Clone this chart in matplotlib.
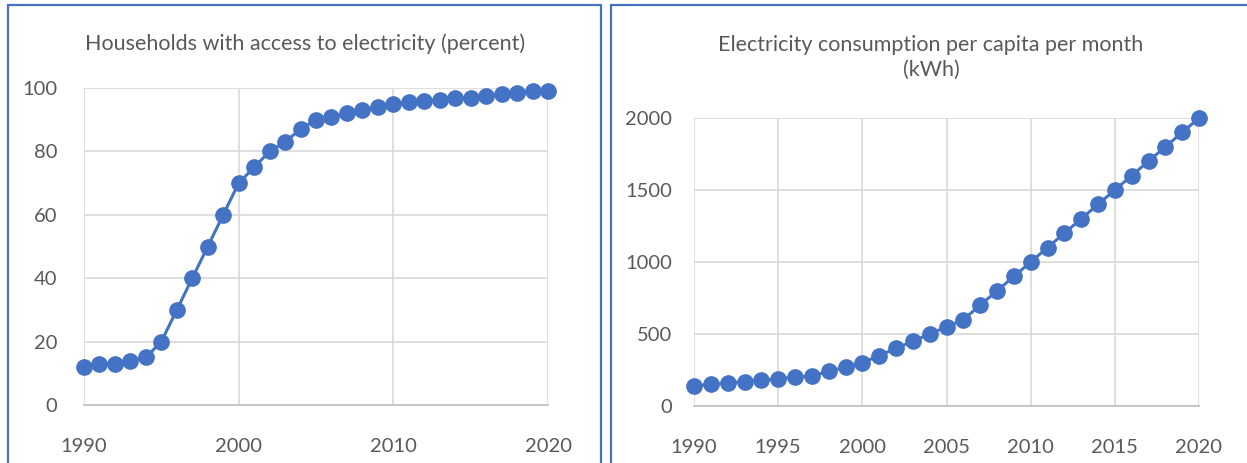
import matplotlib
matplotlib.use("Agg")
import matplotlib.pyplot as plt
from matplotlib.patches import Rectangle

plt.rcParams["font.family"] = ["Lato", "DejaVu Sans"]

BLUE = "#4472C4"
GREY_TXT = "#595959"
GRID = "#D9D9D9"

years = list(range(1990, 2021))

# households with access to electricity, percent
access_pct = [12, 13, 13, 14, 15, 20, 30, 40, 50, 60,
              70, 75, 80, 83, 87, 90, 91, 92, 93, 94,
              95, 95.5, 96, 96.2, 96.7, 97, 97.5, 98, 98.5, 99, 99]

# electricity consumption per capita per month, kWh
kwh_per_capita = [140, 150, 160, 170, 180, 190, 200, 210, 240, 270,
                  300, 350, 400, 450, 500, 550, 600, 700, 800, 900,
                  1000, 1100, 1200, 1300, 1400, 1500, 1600, 1700, 1800, 1900, 2000]

left_xticks = [1990, 2000, 2010, 2020]
left_yticks = [0, 20, 40, 60, 80, 100]
right_xticks = [1990, 1995, 2000, 2005, 2010, 2015, 2020]
right_yticks = [0, 500, 1000, 1500, 2000]

W, H = 1247, 463
fig = plt.figure(figsize=(W / 100, H / 100), dpi=100)


def px_box(x0, y0, x1, y1):
    # pixel box (top-left origin) -> figure fraction rect
    return [x0 / W, 1 - y1 / H, (x1 - x0) / W, (y1 - y0) / H]


# chart frames
fig.patches.append(Rectangle((8 / W, -0.05), (601 - 8) / W, 1 - 5 / H + 0.05,
                             transform=fig.transFigure, fill=False,
                             edgecolor=BLUE, linewidth=1.6))
fig.patches.append(Rectangle((611 / W, -0.05), 0.6, 1 - 5 / H + 0.05,
                             transform=fig.transFigure, fill=False,
                             edgecolor=BLUE, linewidth=1.6))


def style(ax, xticks, yticks, ypad):
    ax.set_xticks(xticks)
    ax.set_yticks(yticks)
    ax.grid(True, color=GRID, linewidth=1.2)
    ax.set_axisbelow(True)
    for s in ["top", "right", "left"]:
        ax.spines[s].set_visible(False)
    ax.spines["bottom"].set_color("#BFBFBF")
    ax.spines["bottom"].set_linewidth(1.2)
    ax.tick_params(axis="both", length=0, labelsize=14.5, colors=GREY_TXT)
    ax.tick_params(axis="x", pad=24)
    ax.tick_params(axis="y", pad=ypad)


ax1 = fig.add_axes(px_box(84, 88, 548, 405))
ax1.plot(years, access_pct, color=BLUE, linewidth=2.2, marker="o",
         markersize=11, clip_on=False)
ax1.set_xlim(1990, 2020)
ax1.set_ylim(0, 100)
style(ax1, left_xticks, left_yticks, 19)
fig.text(305 / W, 1 - 44 / H, "Households with access to electricity (percent)",
         ha="center", va="center", fontsize=15.5, color=GREY_TXT)

ax2 = fig.add_axes(px_box(694, 118, 1199, 406))
ax2.plot(years, kwh_per_capita, color=BLUE, linewidth=2.2, marker="o",
         markersize=11, clip_on=False)
ax2.set_xlim(1990, 2020)
ax2.set_ylim(0, 2000)
style(ax2, right_xticks, right_yticks, 16)
fig.text(931 / W, 1 - 57 / H, "Electricity consumption per capita per month\n(kWh)",
         ha="center", va="center", fontsize=15.5, color=GREY_TXT, linespacing=1.3)

fig.savefig("out.png", dpi=100)
